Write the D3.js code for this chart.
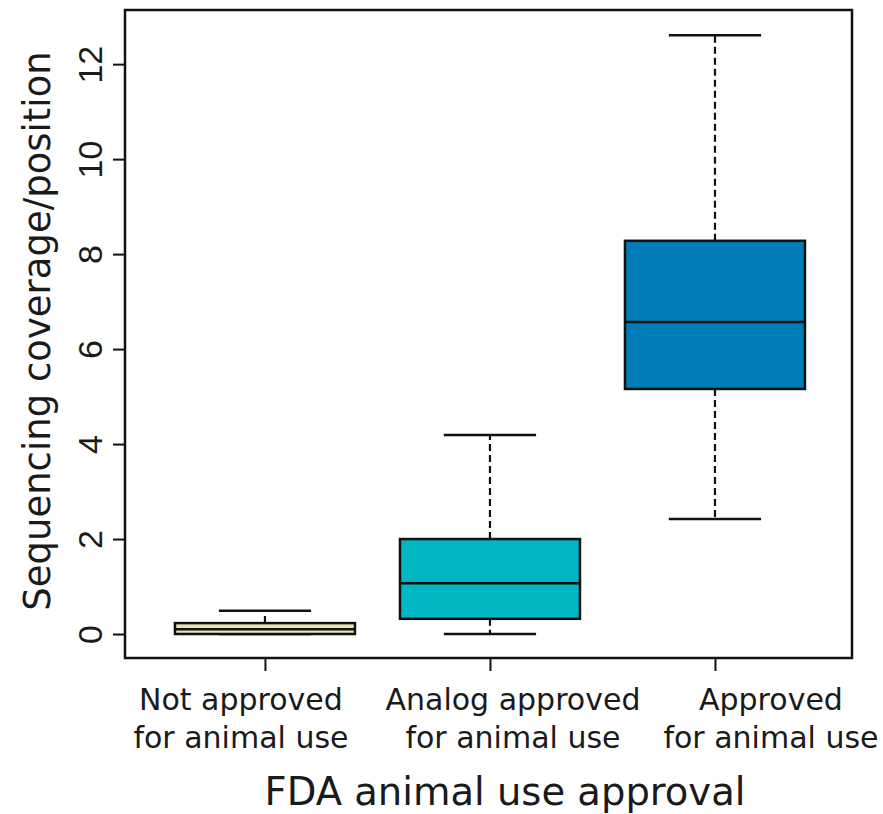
<!DOCTYPE html>
<html>
<head>
<meta charset="utf-8">
<script src="https://cdn.jsdelivr.net/npm/d3@7"></script>
<style>
  body { margin: 0; background: #fff; }
  svg { display: block; font-family: "DejaVu Sans", sans-serif; }
</style>
</head>
<body>
<svg id="chart"></svg>
<script>
// Categories (two-line tick labels)
const categories = [
    ["Not approved", "for animal use"],
    ["Analog approved", "for animal use"],
    ["Approved", "for animal use"]
]
// Box statistics
const whiskerLow = [0.0, 0.0, 2.42]
const q1 = [0.0, 0.32, 5.16]
const median = [0.1, 1.07, 6.57]
const q3 = [0.23, 2.0, 8.28]
const whiskerHigh = [0.49, 4.19, 12.61]
const boxColors = ["#e6e4b2", "#00b6c3", "#007cb8"]
const yTicks = [0, 2, 4, 6, 8, 10, 12]

const margin = {top: 10, right: 31, bottom: 156, left: 125}
const widthSvg = 883, heightSvg = 814
const width = widthSvg - margin.left - margin.right
const height = heightSvg - margin.top - margin.bottom

// Tick labels in the original are nudged sideways to avoid overlap
const labelShift = [-24, 23, 56]

const svg = d3.select("#chart")
    .attr("width", widthSvg)
    .attr("height", heightSvg)
const g = svg.append("g")
    .attr("transform", "translate(" + margin.left + "," + margin.top + ")")

const data = categories.map((c, i) => ({
    pos: i + 1, lo: whiskerLow[i], q1: q1[i], med: median[i],
    q3: q3[i], hi: whiskerHigh[i], color: boxColors[i]
}))

// Scales
const xScale = d3.scaleLinear().domain([0.378, 3.609]).range([0, width])
const yScale = d3.scaleLinear().domain([-0.505, 13.14]).range([height, 0])
const boxW = xScale(0.8) - xScale(0)
const capW = xScale(0.41) - xScale(0)

// Y axis
const yAxis = g.append("g")
    .call(d3.axisLeft(yScale).tickValues(yTicks).tickSize(12))
yAxis.select(".domain").remove()
yAxis.selectAll("line").attr("stroke", "#111").attr("stroke-width", 2)
yAxis.selectAll("text")
    .attr("font-size", "34px")
    .attr("fill", "#1a1a1a")
    .attr("text-anchor", "middle")
    .attr("x", 0)
    .attr("y", 0)
    .attr("dy", "0.35em")
    .attr("transform", "translate(-35,0) rotate(-90)")

// X axis
const xAxis = g.append("g")
    .attr("transform", "translate(0," + height + ")")
    .call(d3.axisBottom(xScale).tickValues(data.map(d => d.pos)).tickSize(13).tickFormat(""))
xAxis.select(".domain").remove()
xAxis.selectAll("line").attr("stroke", "#111").attr("stroke-width", 2)

g.selectAll(".xlabel")
    .data(data)
    .enter()
    .append("text")
    .attr("class", "xlabel")
    .attr("x", (d, i) => xScale(d.pos) + labelShift[i])
    .attr("y", height + 52)
    .attr("text-anchor", "middle")
    .attr("font-size", "30px")
    .attr("fill", "#1a1a1a")
    .selectAll("tspan")
    .data((d, i) => categories[i])
    .enter()
    .append("tspan")
    .attr("x", function() { return d3.select(this.parentNode).attr("x") })
    .attr("dy", (d, i) => i === 0 ? 0 : 38)
    .text(d => d)

// Axis titles
svg.append("text")
    .attr("x", 505)
    .attr("y", 805)
    .attr("text-anchor", "middle")
    .attr("font-size", "38.5px")
    .attr("fill", "#1a1a1a")
    .text("FDA animal use approval")

svg.append("text")
    .attr("transform", "translate(50," + (yScale(6.38) + margin.top) + ") rotate(-90)")
    .attr("text-anchor", "middle")
    .attr("font-size", "37px")
    .attr("fill", "#1a1a1a")
    .text("Sequencing coverage/position")

// Whiskers (dashed)
g.selectAll(".whiskerUp")
    .data(data)
    .enter()
    .append("line")
    .attr("x1", d => xScale(d.pos))
    .attr("x2", d => xScale(d.pos))
    .attr("y1", d => yScale(d.q3))
    .attr("y2", d => yScale(d.hi))
    .attr("stroke", "#111")
    .attr("stroke-width", 2.2)
    .attr("stroke-dasharray", "7,4")

g.selectAll(".whiskerDown")
    .data(data)
    .enter()
    .append("line")
    .attr("x1", d => xScale(d.pos))
    .attr("x2", d => xScale(d.pos))
    .attr("y1", d => yScale(d.q1))
    .attr("y2", d => yScale(d.lo))
    .attr("stroke", "#111")
    .attr("stroke-width", 2.2)
    .attr("stroke-dasharray", "7,4")

// Caps
const caps = data.flatMap(d => [{pos: d.pos, v: d.lo}, {pos: d.pos, v: d.hi}])
g.selectAll(".cap")
    .data(caps)
    .enter()
    .append("line")
    .attr("x1", d => xScale(d.pos) - capW / 2)
    .attr("x2", d => xScale(d.pos) + capW / 2)
    .attr("y1", d => yScale(d.v))
    .attr("y2", d => yScale(d.v))
    .attr("stroke", "#111")
    .attr("stroke-width", 2.5)

// Boxes
g.selectAll(".box")
    .data(data)
    .enter()
    .append("rect")
    .attr("x", d => xScale(d.pos) - boxW / 2)
    .attr("y", d => yScale(d.q3))
    .attr("width", boxW)
    .attr("height", d => yScale(d.q1) - yScale(d.q3))
    .attr("fill", d => d.color)
    .attr("stroke", "#111")
    .attr("stroke-width", 2.5)

// Medians
g.selectAll(".median")
    .data(data)
    .enter()
    .append("line")
    .attr("x1", d => xScale(d.pos) - boxW / 2)
    .attr("x2", d => xScale(d.pos) + boxW / 2)
    .attr("y1", d => yScale(d.med))
    .attr("y2", d => yScale(d.med))
    .attr("stroke", "#111")
    .attr("stroke-width", 2.5)

// Frame
g.append("rect")
    .attr("x", 0)
    .attr("y", 0)
    .attr("width", width)
    .attr("height", height)
    .attr("fill", "none")
    .attr("stroke", "#111")
    .attr("stroke-width", 2.5)
</script>
</body>
</html>
